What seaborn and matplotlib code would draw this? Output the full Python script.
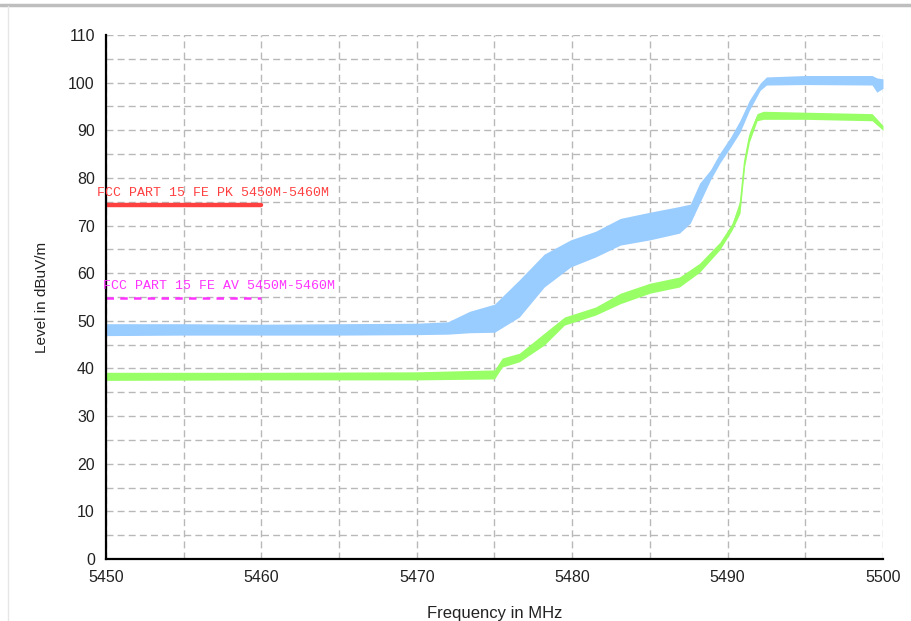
import numpy as np
import pandas as pd
import matplotlib
matplotlib.use("Agg")
import matplotlib.pyplot as plt
from matplotlib.lines import Line2D
from matplotlib.ticker import MultipleLocator
import seaborn as sns

# Peak detector trace: lower / upper edge of the noise band (dBuV/m)
pk_freq = [5450, 5455, 5460, 5465, 5470, 5472.0, 5473.4, 5475.0, 5476.6, 5478.2, 5479.9,
           5481.5, 5483.1, 5485.0, 5486.9, 5487.6, 5488.2, 5488.9, 5489.5, 5490.2,
           5490.8, 5491.4, 5492.1, 5492.5, 5495, 5499.3, 5499.6, 5500]
pk_low = [46.9, 47.0, 47.0, 47.0, 47.1, 47.2, 47.5, 47.6, 50.8, 57.1, 61.3,
          63.4, 65.9, 67.0, 68.4, 70.5, 74.7, 79.6, 83.1, 86.5,
          89.6, 94.2, 98.4, 99.5, 99.6, 99.5, 98.0, 98.8]
pk_high = [49.4, 49.4, 49.3, 49.4, 49.5, 49.8, 52.0, 53.5, 58.6, 64.0, 67.0,
           68.8, 71.5, 72.8, 74.0, 74.5, 78.9, 81.7, 85.2, 88.6,
           92.1, 96.3, 99.9, 101.2, 101.5, 101.5, 101.0, 100.8]

# Average detector trace
av_freq = [5450, 5460, 5470, 5475.0, 5475.5, 5476.6, 5478.2, 5479.5, 5481.5, 5483.1,
           5485.0, 5486.9, 5488.2, 5489.5, 5490.3, 5490.8, 5491.1, 5491.4, 5491.9,
           5492.3, 5495, 5499.3, 5500]
av_low = [37.5, 37.6, 37.6, 37.8, 40.3, 41.4, 44.9, 49.1, 51.2, 53.6,
          55.8, 57.1, 60.2, 64.9, 69.1, 72.6, 82.5, 87.5, 92.0,
          92.3, 92.3, 92.0, 90.0]
av_high = [39.2, 39.2, 39.3, 39.7, 42.2, 43.2, 47.4, 50.8, 52.9, 55.8,
           57.9, 59.2, 62.1, 66.5, 70.5, 75.4, 84.5, 89.5, 93.5,
           94.0, 93.8, 93.5, 91.0]

# Limit lines
limit_freq = [5450, 5460]
pk_limit = [74.3, 74.3]
av_limit = [54.8, 54.8]
pk_limit_label = "FCC PART 15 FE PK 5450M-5460M"
av_limit_label = "FCC PART 15 FE AV 5450M-5460M"

x_ticks = [5450, 5460, 5470, 5480, 5490, 5500]
y_ticks = list(range(0, 111, 10))


def band_frame(freq, low, high):
    return pd.DataFrame({
        "freq": list(freq) + list(freq),
        "level": list(low) + list(high),
    })


sns.set_style("white")
plt.rcParams["font.family"] = ["Liberation Sans", "DejaVu Sans"]

fig = plt.figure(figsize=(9.12, 6.21), dpi=100)
ax = fig.add_axes([0.1162, 0.0998, 0.852, 0.8438])

grid_kw = dict(color="#B8B8B8", linestyle=(0, (5, 3)), linewidth=1.0)
ax.set_axisbelow(True)

band_kw = dict(estimator="mean", errorbar=("pi", 100), linewidth=1.0,
               legend=False)
sns.lineplot(data=band_frame(pk_freq, pk_low, pk_high), x="freq", y="level",
             color="#99CCFF", err_kws={"alpha": 1, "linewidth": 0}, ax=ax, **band_kw)
sns.lineplot(data=band_frame(av_freq, av_low, av_high), x="freq", y="level",
             color="#99FF66", err_kws={"alpha": 1, "linewidth": 0}, ax=ax, **band_kw)

sns.lineplot(x=limit_freq, y=pk_limit, color="#FF4040", linewidth=3.2, ax=ax)
sns.lineplot(x=limit_freq, y=av_limit, color="#FF33FF", linewidth=1.8,
             linestyle=(0, (3, 2.5)), ax=ax)

mono = ["Liberation Mono", "DejaVu Sans Mono"]
ax.text(5449.42, 76.2, pk_limit_label, color="#FF4040", fontsize=9.5,
        family=mono, va="baseline", ha="left", clip_on=False)
ax.text(5449.8, 56.6, av_limit_label, color="#FF33FF", fontsize=9.5,
        family=mono, va="baseline", ha="left", clip_on=False)

ax.set_xlim(5450, 5500)
ax.set_ylim(0, 110)
ax.xaxis.set_major_locator(MultipleLocator(10))
ax.xaxis.set_minor_locator(MultipleLocator(5))
ax.yaxis.set_major_locator(MultipleLocator(10))
ax.yaxis.set_minor_locator(MultipleLocator(5))
ax.set_xticks(x_ticks)
ax.set_yticks(y_ticks)
ax.grid(True, which="both", **grid_kw)

ax.tick_params(axis="both", which="both", direction="inout", width=1.3,
               color="black", labelsize=11.5, labelcolor="#222222")
ax.tick_params(axis="both", which="major", length=10, pad=3)
ax.tick_params(axis="both", which="minor", length=10)

for side in ("top", "right"):
    ax.spines[side].set_visible(False)
for side in ("left", "bottom"):
    ax.spines[side].set_color("black")
    ax.spines[side].set_linewidth(1.6)

ax.set_xlabel("Frequency in MHz", fontsize=12, color="#222222", labelpad=15)
ax.set_ylabel("Level in dBuV/m", fontsize=11, color="#222222", labelpad=14)

# Window frame edges
fig.add_artist(Line2D([0, 1], [1 - 4.5 / 621] * 2, color="#BEBEBE", linewidth=2.5,
                      transform=fig.transFigure))
fig.add_artist(Line2D([8 / 912] * 2, [0, 1 - 6 / 621], color="#E6E6E6", linewidth=1,
                      transform=fig.transFigure))

fig.savefig("out.png", dpi=100)
